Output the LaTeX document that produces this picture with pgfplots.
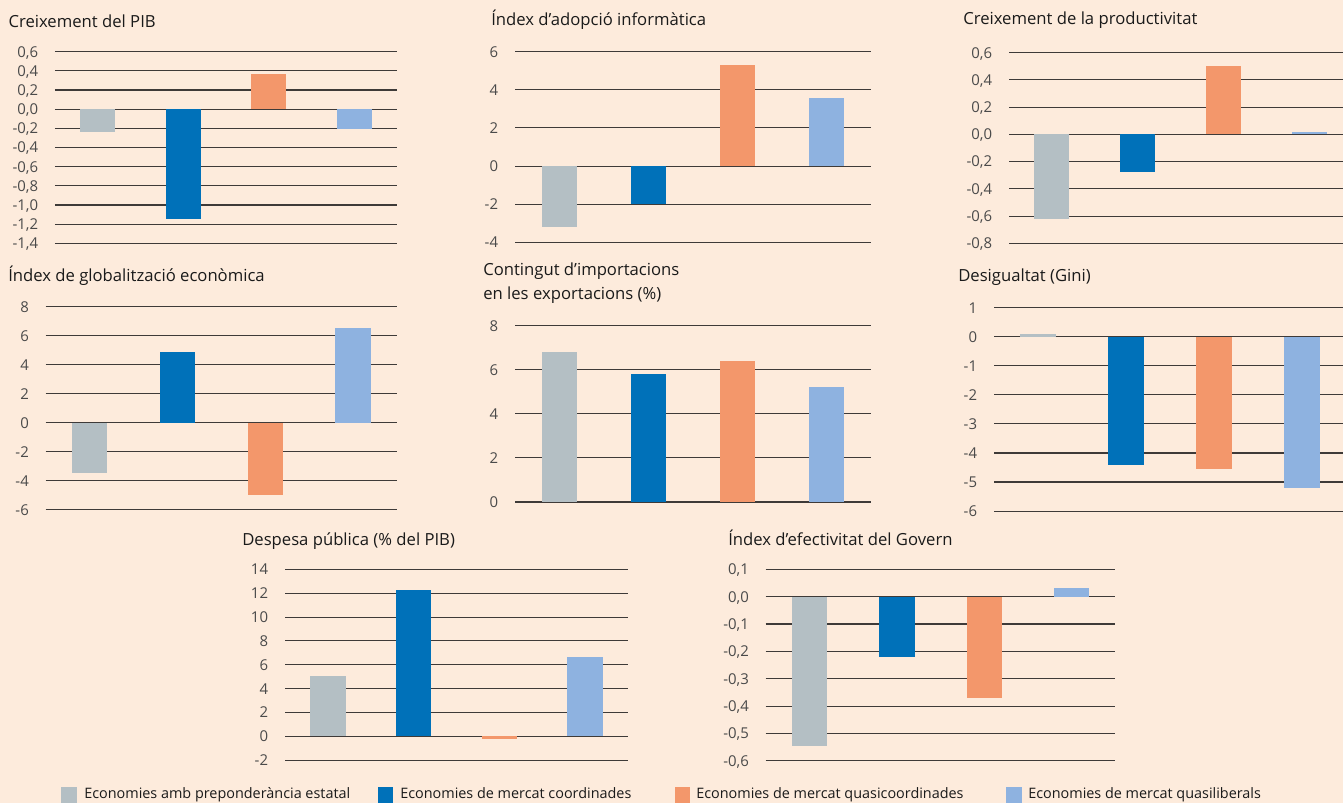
\documentclass[border=0pt]{standalone}
\usepackage{fontspec}
\setmainfont{Open Sans}
\usepackage{pgfplots}
\pgfplotsset{compat=1.18}
\definecolor{bg}{HTML}{FDEBDC}
\definecolor{cgrey}{HTML}{B4BFC4}
\definecolor{cblue}{HTML}{0071B9}
\definecolor{corange}{HTML}{F3976B}
\definecolor{clight}{HTML}{8EB2E0}
\definecolor{gridc}{HTML}{3E3A38}
\definecolor{tickc}{HTML}{4A4A4A}
\definecolor{titlec}{HTML}{1A1A1A}
\newcommand\titlefont{\fontsize{12.5pt}{14pt}\selectfont}
\newcommand\tickfont{\fontsize{11.2pt}{13pt}\selectfont}
\pgfplotsset{
  panel/.style={
    scale only axis, anchor=north west,
    axis line style={draw=none},
    major tick length=0pt,
    xtick=\empty,
    ymajorgrids,
    grid style={gridc, line width=0.8pt},
    enlargelimits=false,
    clip=false,
    /pgf/number format/assume math mode=true,
    yticklabel style={font=\tickfont, text=tickc, inner sep=0pt, anchor=base east, xshift=-12.5pt, yshift=-4pt},
  },
  dec/.style={/pgf/number format/fixed, /pgf/number format/fixed zerofill, /pgf/number format/precision=1, /pgf/number format/use comma},
  b/.style={ybar, bar width=26.6pt, bar shift=0pt, draw=none, fill=#1},
}
\begin{document}
\begin{tikzpicture}
\useasboundingbox (0,0) rectangle (1007.25pt,-602.25pt);
\clip (0,0) rectangle (1007.25pt,-602.25pt);
\fill[bg] (0,0) rectangle (1007.25pt,-602.25pt);

% Panel 1
\begin{axis}[panel, dec, at={(41.25pt,-38.78pt)}, width=256.5pt, height=143.7pt,
  xmin=0.5, xmax=4.5, ymin=-1.4, ymax=0.6,
  ytick={-1.4,-1.2,-1,-0.8,-0.6,-0.4,-0.2,0,0.2,0.4,0.6}]
\addplot[b=cgrey] coordinates {(1,-0.24)};
\addplot[b=cblue] coordinates {(2,-1.15)};
\addplot[b=corange] coordinates {(3,0.37)};
\addplot[b=clight] coordinates {(4,-0.21)};
\end{axis}

% Panel 2
\begin{axis}[panel, at={(386.25pt,-38.78pt)}, width=267pt, height=142.95pt,
  xmin=0.5, xmax=4.5, ymin=-4, ymax=6, ytick={-4,-2,0,2,4,6}]
\addplot[b=cgrey] coordinates {(1,-3.2)};
\addplot[b=cblue] coordinates {(2,-2.0)};
\addplot[b=corange] coordinates {(3,5.3)};
\addplot[b=clight] coordinates {(4,3.55)};
\end{axis}

% Panel 3
\begin{axis}[panel, dec, at={(756.75pt,-39.5pt)}, width=250.5pt, height=142.95pt,
  xmin=0.506, xmax=4.39, ymin=-0.8, ymax=0.6,
  ytick={-0.8,-0.6,-0.4,-0.2,0,0.2,0.4,0.6}]
\addplot[b=cgrey] coordinates {(1,-0.62)};
\addplot[b=cblue] coordinates {(2,-0.28)};
\addplot[b=corange] coordinates {(3,0.50)};
\addplot[b=clight] coordinates {(4,0.02)};
\end{axis}

% Panel 4
\begin{axis}[panel, at={(34.3pt,-230pt)}, width=263.5pt, height=152.25pt,
  xmin=0.5, xmax=4.5, ymin=-6, ymax=8, ytick={-6,-4,-2,0,2,4,6,8}]
\addplot[b=cgrey] coordinates {(1,-3.5)};
\addplot[b=cblue] coordinates {(2,4.9)};
\addplot[b=corange] coordinates {(3,-5.0)};
\addplot[b=clight] coordinates {(4,6.5)};
\end{axis}

% Panel 5
\begin{axis}[panel, at={(386.25pt,-244.3pt)}, width=267pt, height=132.2pt,
  xmin=0.5, xmax=4.5, ymin=0, ymax=8, ytick={0,2,4,6,8}]
\addplot[b=cgrey] coordinates {(1,6.8)};
\addplot[b=cblue] coordinates {(2,5.8)};
\addplot[b=corange] coordinates {(3,6.4)};
\addplot[b=clight] coordinates {(4,5.2)};
\end{axis}

% Panel 6
\begin{axis}[panel, at={(745.5pt,-230.8pt)}, width=261.75pt, height=152.5pt,
  xmin=0.5, xmax=4.466, ymin=-6, ymax=1, ytick={-6,-5,-4,-3,-2,-1,0,1}]
\addplot[b=cgrey] coordinates {(1,0.1)};
\addplot[b=cblue] coordinates {(2,-4.4)};
\addplot[b=corange] coordinates {(3,-4.55)};
\addplot[b=clight] coordinates {(4,-5.2)};
\end{axis}

% Panel 7
\begin{axis}[panel, at={(213.75pt,-427pt)}, width=257.25pt, height=143.25pt,
  xmin=0.5, xmax=4.5, ymin=-2, ymax=14, ytick={-2,0,2,4,6,8,10,12,14}]
\addplot[b=cgrey] coordinates {(1,5.1)};
\addplot[b=cblue] coordinates {(2,12.25)};
\addplot[b=corange] coordinates {(3,-0.2)};
\addplot[b=clight] coordinates {(4,6.65)};
\end{axis}

% Panel 8
\begin{axis}[panel, dec, at={(574.3pt,-427pt)}, width=262.2pt, height=143.55pt,
  xmin=0.5, xmax=4.5, ymin=-0.6, ymax=0.1,
  ytick={-0.6,-0.5,-0.4,-0.3,-0.2,-0.1,0,0.1}]
\addplot[b=cgrey] coordinates {(1,-0.545)};
\addplot[b=cblue] coordinates {(2,-0.22)};
\addplot[b=corange] coordinates {(3,-0.37)};
\addplot[b=clight] coordinates {(4,0.03)};
\end{axis}

% Titles
\begin{scope}[every node/.style={anchor=base west, font=\titlefont, text=titlec, inner sep=0pt}]
\node at (6.2pt,-20.5pt) {Creixement del PIB};
\node at (368.25pt,-19.3pt) {Índex d’adopció informàtica};
\node at (722.25pt,-18.75pt) {Creixement de la productivitat};
\node at (6pt,-210.75pt) {Índex de globalització econòmica};
\node at (362.25pt,-206.25pt) {Contingut d’importacions};
\node at (362.25pt,-224.25pt) {en les exportacions (\%)};
\node at (718.5pt,-210.75pt) {Desigualtat (Gini)};
\node at (181.5pt,-408.75pt) {Despesa pública (\% del PIB)};
\node at (546pt,-408.75pt) {Índex d’efectivitat del Govern};
\end{scope}

% Legend
\fill[cgrey] (45.75pt,-590.5pt) rectangle (57.5pt,-610pt);
\fill[cblue] (283.3pt,-590.5pt) rectangle (294.75pt,-610pt);
\fill[corange] (506.25pt,-590.5pt) rectangle (517.5pt,-610pt);
\fill[clight] (754.5pt,-590.5pt) rectangle (766.5pt,-610pt);
\begin{scope}[every node/.style={anchor=base west, font=\fontsize{10.8pt}{12pt}\selectfont, text=titlec, inner sep=0pt}]
\node at (63pt,-598.6pt) {Economies amb preponderància estatal};
\node at (300pt,-598.6pt) {Economies de mercat coordinades};
\node at (522pt,-598.6pt) {Economies de mercat quasicoordinades};
\node at (771pt,-598.6pt) {Economies de mercat quasiliberals};
\end{scope}
\end{tikzpicture}
\end{document}
